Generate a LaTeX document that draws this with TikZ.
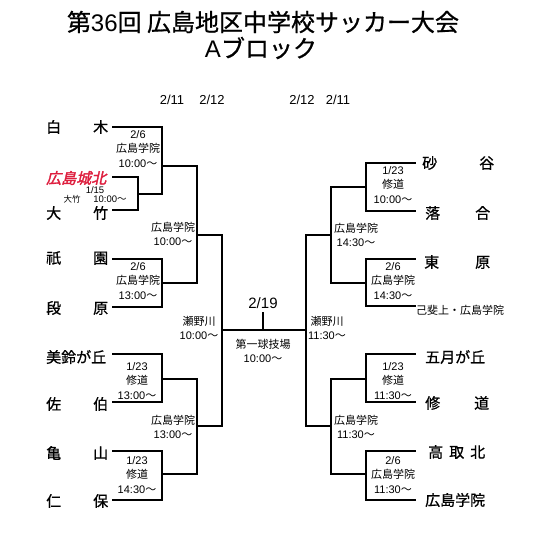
\documentclass[tikz,border=0pt]{standalone}
\usepackage{fontspec}
\setmainfont{Noto Sans CJK JP}
\newfontfamily\redfont[FakeSlant=0.22,FakeBold=2]{Noto Sans CJK JP}
\newfontfamily\heavy[FakeBold=0.8]{Noto Sans CJK JP}
\newfontfamily\lat{Liberation Sans}
\definecolor{teamred}{RGB}{222,30,62}
\newcommand\spreadname[2]{\makebox[#1][s]{#2}}
\newcommand\tm[1]{{\lat #1}〜}
\begin{document}
\begin{tikzpicture}[x=1pt,y=-1pt,
  bracket/.style={line width=1.9pt,line join=miter,line cap=rect},
  team/.style={anchor=west,inner sep=0,font=\fontsize{15}{15}\selectfont\heavy},
  info/.style={align=center,inner sep=0,font=\fontsize{11}{14.5}\selectfont},
  small/.style={inner sep=0,font=\fontsize{11}{13}\selectfont},
  tiny/.style={inner sep=0,font=\fontsize{8.5}{10}\selectfont},
  datehead/.style={inner sep=0,font=\fontsize{13}{13}\selectfont\lat},
  titletext/.style={inner sep=0,font=\fontsize{24}{24}\selectfont\heavy}]
\useasboundingbox (0,0) rectangle (540,535);
\fill[white] (0,0) rectangle (540,535);

% title
\node[titletext] (t1) at (263,22) {第{\lat 36}回\ 広島地区中学校サッカー大会};
\node[titletext] (t2) at (261,48) {{\lat A}ブロック};

% date headers
\node[datehead] (d1) at (172,100) {2/11};
\node[datehead] (d2) at (212,100) {2/12};
\node[datehead] (d3) at (302,100) {2/12};
\node[datehead] (d4) at (338,100) {2/11};

% left teams
\node[team] (l1) at (46,127) {\spreadname{62pt}{白\hfil 木}};
\node[team,text=teamred] (l2) at (46,178) {\redfont 広島城北};
\node[team] (l3) at (46,213) {\spreadname{62pt}{大\hfil 竹}};
\node[team] (l4) at (46,258) {\spreadname{62pt}{祇\hfil 園}};
\node[team] (l5) at (46,308) {\spreadname{62pt}{段\hfil 原}};
\node[team] (l6) at (46,357) {美鈴が丘};
\node[team] (l7) at (46,404) {\spreadname{62pt}{佐\hfil 伯}};
\node[team] (l8) at (46,453) {\spreadname{62pt}{亀\hfil 山}};
\node[team] (l9) at (46,501) {\spreadname{62pt}{仁\hfil 保}};

% right teams
\node[team] (r1) at (422,163) {\spreadname{72pt}{砂\hfil 谷}};
\node[team] (r2) at (425,213) {\spreadname{65pt}{落\hfil 合}};
\node[team] (r3) at (424,262) {\spreadname{66pt}{東\hfil 原}};
\node[team] (r5) at (425,357) {五月が丘};
\node[team] (r6) at (425,403) {\spreadname{64pt}{修\hfil 道}};
\node[team] (r7) at (428,452) {\spreadname{57pt}{高\hfil 取\hfil 北}};
\node[team] (r8) at (425,500) {広島学院};
\node[small,anchor=west] (r4) at (416,310) {己斐上・広島学院};

% left brackets
\coordinate (la1) at (113,127); \coordinate (la2) at (113,177);
\coordinate (la3) at (113,210); \coordinate (la4) at (113,259);
\coordinate (la5) at (113,307); \coordinate (la6) at (113,354);
\coordinate (la7) at (113,402); \coordinate (la8) at (113,451);
\coordinate (la9) at (113,500);
\draw[bracket] (la2) -- (138,177) -- (138,210) -- (la3);
\draw[bracket] (la1) -- (162,127) -- (162,194) -- (138,194);
\draw[bracket] (la4) -- (162,259) -- (162,307) -- (la5);
\draw[bracket] (162,166) -- (197,166) -- (197,283) -- (162,283);
\draw[bracket] (la6) -- (162,354) -- (162,402) -- (la7);
\draw[bracket] (la8) -- (162,451) -- (162,500) -- (la9);
\draw[bracket] (162,379) -- (197,379) -- (197,474) -- (162,474);
\draw[bracket] (197,235) -- (222,235) -- (222,426) -- (197,426);

% right brackets
\coordinate (ra1) at (415,163); \coordinate (ra2) at (415,211);
\coordinate (ra3) at (415,259); \coordinate (ra4) at (415,306);
\coordinate (ra5) at (415,354); \coordinate (ra6) at (415,402);
\coordinate (ra7) at (415,451); \coordinate (ra8) at (415,500);
\draw[bracket] (ra1) -- (366,163) -- (366,211) -- (ra2);
\draw[bracket] (ra3) -- (366,259) -- (366,306) -- (ra4);
\draw[bracket] (366,187) -- (331,187) -- (331,283) -- (366,283);
\draw[bracket] (ra5) -- (366,354) -- (366,402) -- (ra6);
\draw[bracket] (ra7) -- (366,451) -- (366,500) -- (ra8);
\draw[bracket] (366,379) -- (331,379) -- (331,474) -- (366,474);
\draw[bracket] (331,235) -- (306,235) -- (306,426) -- (331,426);

% final
\coordinate (fin) at (263,313);
\draw[bracket] (222,330) -- (306,330);
\draw[bracket] (263,330) -- (fin);
\node[datehead,font=\fontsize{15}{15}\selectfont\lat] (f1) at (263,303) {2/19};
\node[info] (f2) at (263,351) {第一球技場\\\tm{10:00}};

% left labels
\node[info] (i1) at (138,149) {{\lat 2/6}\\広島学院\\\tm{10:00}};
\node[small,font=\fontsize{9.5}{11}\selectfont\lat] (i2) at (95,190) {1/15};
\node[tiny] (i3) at (72,199.5) {大竹};
\node[small,font=\fontsize{9.5}{11}\selectfont] (i4) at (110,199.5) {\tm{10:00}};
\node[info] (i5) at (138,281) {{\lat 2/6}\\広島学院\\\tm{13:00}};
\node[info] (i6) at (137,381) {{\lat 1/23}\\修道\\\tm{13:00}};
\node[info] (i7) at (137,475) {{\lat 1/23}\\修道\\\tm{14:30}};
\node[info] (i8) at (173,234) {広島学院\\\tm{10:00}};
\node[info] (i9) at (173,427) {広島学院\\\tm{13:00}};
\node[info] (i10) at (199,328) {瀬野川\\\tm{10:00}};

% right labels
\node[info] (j1) at (393,185) {{\lat 1/23}\\修道\\\tm{10:00}};
\node[info] (j2) at (393,281) {{\lat 2/6}\\広島学院\\\tm{14:30}};
\node[info] (j3) at (393,381) {{\lat 1/23}\\修道\\\tm{11:30}};
\node[info] (j4) at (393,475) {{\lat 2/6}\\広島学院\\\tm{11:30}};
\node[info] (j5) at (356,235) {広島学院\\\tm{14:30}};
\node[info] (j6) at (356,427) {広島学院\\\tm{11:30}};
\node[info] (j7) at (327,328) {瀬野川\\\tm{11:30}};
\end{tikzpicture}
\end{document}
